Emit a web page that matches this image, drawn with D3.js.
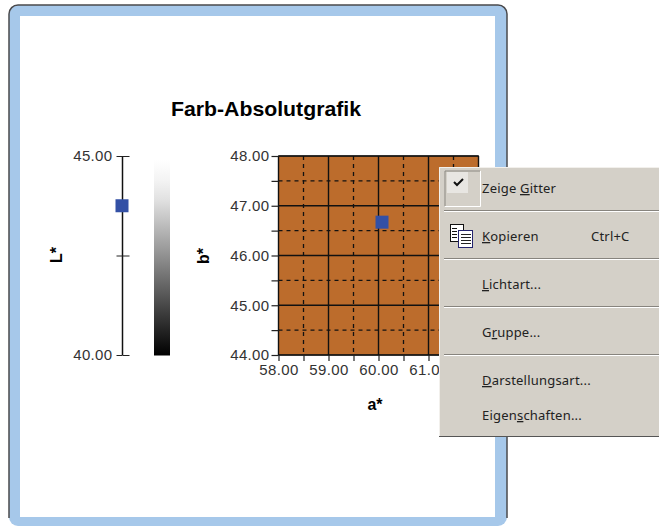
<!DOCTYPE html>
<html><head><meta charset="utf-8">
<script src="https://cdn.jsdelivr.net/npm/d3@7"></script>
<style>html,body{margin:0;padding:0;background:#fff}svg{display:block}
text{font-family:"Liberation Sans",Arial,sans-serif}
.menu text{font-family:"Noto Sans",sans-serif;font-size:13px;letter-spacing:.2px;fill:#222}
.tick text{font-family:"Liberation Sans",Arial,sans-serif;font-size:15px;fill:#333;letter-spacing:.35px}
</style></head><body><div id="c"></div>
<script>
const title="Farb-Absolutgrafik";
const lTicks=[40,42.5,45], lLabels={40:"40.00",45:"45.00"};
const lValue=[43.75];
const aTicks=[58,59,60,61,62], aLabels=[58,59,60,61], bTicks=[44,45,46,47,48];
const aMinor=[58.5,59.5,60.5,61.5], bMinor=[44.5,45.5,46.5,47.5];
const point={a:60.07,b:46.67};
const grayStops=["#000000","#1c1c1c","#383838","#555555","#717171","#8e8e8e","#aaaaaa","#c6c6c6","#e2e2e2","#f4f4f4","#ffffff"];
const menuItems=[
 {pre:"Zeige ",u:"G",post:"itter",y:188},
 {pre:"",u:"K",post:"opieren",y:236,key:"Ctrl+C"},
 {pre:"",u:"L",post:"ichtart...",y:284},
 {pre:"G",u:"r",post:"uppe...",y:332},
 {pre:"",u:"D",post:"arstellungsart...",y:380},
 {pre:"Eigen",u:"s",post:"chaften...",y:415}];
const seps=[211,259,307,355];

const svg=d3.select("#c").append("svg").attr("width",659).attr("height",527);
// frame
svg.append("rect").attr("x",9).attr("y",5).attr("width",498).attr("height",521).attr("rx",9).attr("fill","#a6c8ea");
svg.append("path").attr("d","M9 518V14a9 9 0 0 1 9-9H498a9 9 0 0 1 9 9V518").attr("fill","none").attr("stroke","#4a4a4c").attr("stroke-width",1.5);
svg.append("rect").attr("x",20).attr("y",16).attr("width",475).attr("height",501).attr("fill","#fff");
svg.append("text").attr("x",266).attr("y",116).attr("text-anchor","middle").attr("font-size",18).attr("font-weight","bold").attr("textLength",190).attr("lengthAdjust","spacingAndGlyphs").style("font-size","20.8px").text(title);

// L axis
const yL=d3.scaleLinear().domain([40,45]).range([355,156]);
const gL=svg.append("g").attr("transform","translate(122.5,0)");
const axL=d3.axisLeft(yL).tickValues(lTicks).tickSize(6).tickPadding(4).tickFormat(d=>lLabels[d]||"");
gL.call(axL);
gL.select(".domain").attr("stroke","#111").attr("stroke-width",1.5).attr("d","M0,156V355");
gL.selectAll(".tick line").attr("stroke","#222");
gL.selectAll(".tick").append("line").attr("x2",7).attr("stroke","#222");
svg.append("text").attr("transform","translate(62,255) rotate(-90)").attr("text-anchor","middle").attr("font-size",16).attr("font-weight","bold").text("L*");
svg.selectAll(".lpt").data(lValue).enter().append("rect").attr("x",115.5).attr("y",d=>yL(d)-6.5).attr("width",13).attr("height",13).attr("fill","#3350a5");

// gray bar
const grad=svg.append("defs").append("linearGradient").attr("id","gr").attr("x1",0).attr("x2",0).attr("y1",1).attr("y2",0);
grad.selectAll("stop").data(grayStops).enter().append("stop").attr("offset",(d,i)=>i/(grayStops.length-1)).attr("stop-color",d=>d);
svg.append("rect").attr("x",154).attr("y",160).attr("width",16).attr("height",195.5).attr("fill","url(#gr)");

// a*-b* plot
const x=d3.scaleLinear().domain([58,62]).range([278.5,478.5]);
const y=d3.scaleLinear().domain([44,48]).range([355,156]);
svg.append("rect").attr("x",x(58)).attr("y",y(48)).attr("width",x(62)-x(58)).attr("height",y(44)-y(48)).attr("fill","#bc6c2c").attr("stroke","#222");
const lines=svg.append("g");
lines.selectAll(".mx").data(aMinor).enter().append("line").attr("x1",d=>x(d)).attr("x2",d=>x(d)).attr("y1",y(48)).attr("y2",y(44)).attr("stroke","#111").attr("stroke-width",1.3).attr("stroke-dasharray","4 4");
lines.selectAll(".my").data(bMinor).enter().append("line").attr("y1",d=>y(d)).attr("y2",d=>y(d)).attr("x1",x(58)).attr("x2",x(62)).attr("stroke","#111").attr("stroke-width",1.3).attr("stroke-dasharray","4 4");
lines.selectAll(".Mx").data(aTicks).enter().append("line").attr("x1",d=>x(d)).attr("x2",d=>x(d)).attr("y1",y(48)).attr("y2",y(44)).attr("stroke","#111").attr("stroke-width",1.4);
lines.selectAll(".My").data(bTicks).enter().append("line").attr("y1",d=>y(d)).attr("y2",d=>y(d)).attr("x1",x(58)).attr("x2",x(62)).attr("stroke","#111").attr("stroke-width",1.4);
const gx=svg.append("g").attr("transform","translate(0,355)").call(d3.axisBottom(x).tickValues(aTicks.concat(aMinor)).tickSize(6).tickPadding(3).tickFormat(d=>aLabels.includes(d)?d.toFixed(2):""));
gx.select(".domain").remove();gx.selectAll(".tick line").attr("stroke","#222").attr("stroke-width",1.2);
const gy=svg.append("g").attr("transform","translate(278.5,0)").call(d3.axisLeft(y).tickValues(bTicks.concat(bMinor)).tickSize(7).tickPadding(2).tickFormat(d=>bTicks.includes(d)?d.toFixed(2):""));
gy.select(".domain").remove();gy.selectAll(".tick line").attr("stroke","#222").attr("stroke-width",1.2);
svg.append("text").attr("transform","translate(209,256) rotate(-90)").attr("text-anchor","middle").attr("font-size",16).attr("font-weight","bold").text("b*");
svg.append("text").attr("x",375).attr("y",410).attr("text-anchor","middle").attr("font-size",16).attr("font-weight","bold").text("a*");
svg.append("rect").attr("x",x(point.a)-6.5).attr("y",y(point.b)-6.5).attr("width",13).attr("height",13).attr("fill","#3350a5");

// context menu
const m=svg.append("g").attr("class","menu");
m.append("rect").attr("x",439).attr("y",167).attr("width",220).attr("height",269).attr("fill","#d4d0c8");
m.append("path").attr("d","M439.5 436V167.5H659").attr("fill","none").attr("stroke","#f2f0ec");
m.append("path").attr("d","M439 436.5H659").attr("stroke","#555");
m.selectAll(".sep").data(seps).enter().append("g").each(function(d){
 d3.select(this).append("line").attr("x1",444).attr("x2",659).attr("y1",d-.5).attr("y2",d-.5).attr("stroke","#87847e");
 d3.select(this).append("line").attr("x1",444).attr("x2",659).attr("y1",d+.5).attr("y2",d+.5).attr("stroke","#fff");
});
// check button
m.append("path").attr("d","M445 206V171H480").attr("fill","none").attr("stroke","#8a8780");
m.append("path").attr("d","M445 206.5H480.5V171").attr("fill","none").attr("stroke","#fff");
m.append("rect").attr("x",447).attr("y",172).attr("width",21).attr("height",21).attr("fill","#e8e6e2");
m.append("path").attr("d","M454 182l3 3 6-6").attr("fill","none").attr("stroke","#111").attr("stroke-width",2);
// copy icon
m.append("rect").attr("x",450.5).attr("y",224.5).attr("width",13).attr("height",17).attr("fill","#fff").attr("stroke","#111");
m.append("rect").attr("x",458.5).attr("y",230.5).attr("width",14).attr("height",17).attr("fill","#fff").attr("stroke","#24246e");
m.selectAll(".r1").data([228,231,234,237]).enter().append("line").attr("x1",452).attr("x2",457).attr("y1",d=>d+.5).attr("y2",d=>d+.5).attr("stroke","#111");
m.selectAll(".r2").data([234,237,240,243]).enter().append("line").attr("x1",461).attr("x2",471).attr("y1",d=>d+.5).attr("y2",d=>d+.5).attr("stroke","#222");
menuItems.forEach(it=>{
 const t=m.append("text").attr("x",482).attr("y",it.y+5);
 t.append("tspan").text(it.pre);
 t.append("tspan").attr("text-decoration","underline").text(it.u);
 t.append("tspan").text(it.post);
 if(it.key)m.append("text").attr("x",591).attr("y",it.y+5).text(it.key);
});
</script></body></html>
